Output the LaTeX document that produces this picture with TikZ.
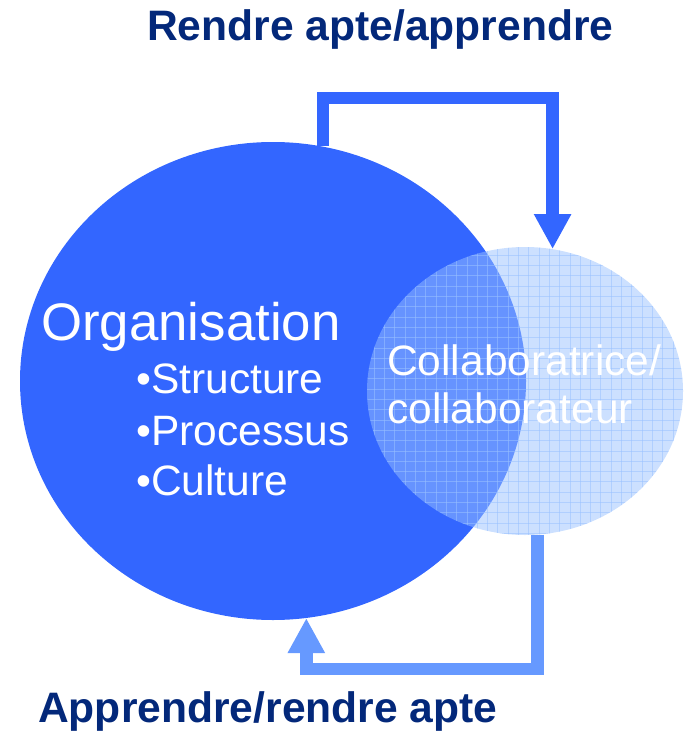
\documentclass[tikz,border=0pt]{standalone}
\usepackage{fontspec}
\setmainfont{Liberation Sans}
\usetikzlibrary{arrows.meta,shapes.geometric}

\definecolor{orgblue}{RGB}{51,102,255}
\definecolor{backblue}{RGB}{102,153,255}
\definecolor{collabblue}{RGB}{153,193,255}
\definecolor{titlenavy}{RGB}{3,40,122}

\tikzset{
  orgshape/.style={ellipse, fill=orgblue, draw=none, inner sep=0pt,
    minimum width=506pt, minimum height=478pt},
  collabshape/.style={ellipse, fill=collabblue, fill opacity=0.5, draw=none,
    inner sep=0pt, minimum width=316pt, minimum height=288pt},
  gridlines/.style={draw=collabblue, draw opacity=0.55, line width=0.9pt},
  flowarrow/.style={line width=12.5pt, line join=miter,
    -{Triangle[length=35pt 0 0, width=35pt 0 0]}},
  titletext/.style={anchor=base west, inner sep=0pt, text=titlenavy,
    font=\fontsize{42.6}{48}\selectfont\bfseries},
  bodytext/.style={anchor=base west, inner sep=0pt, text=white,
    font=\fontsize{42.5}{48}\selectfont},
}

\begin{document}
\begin{tikzpicture}[x=1pt,y=-1pt]
  \useasboundingbox (0,0) rectangle (684,733);

  % the two overlapping ellipses
  \node[orgshape] (org) at (273,381) {};
  \node[collabshape] (collab) at (525,391) {};
  \begin{scope}
    \clip (525,391) ellipse [x radius=158, y radius=144];
    \foreach \gx in {0,...,32}
      \draw[gridlines] (364+10.3*\gx,240) -- (364+10.3*\gx,540);
    \foreach \gy in {0,...,29}
      \draw[gridlines] (360,245+10.3*\gy) -- (690,245+10.3*\gy);
  \end{scope}

  % feedback loops between the ellipses
  \draw[flowarrow, orgblue] (org.78.4) -- ++(0,-48.5) -| (collab.79.4);
  \draw[flowarrow, backblue] (collab.-85) -- ++(0,134.5) -| (org.-82);

  % titles
  \node[titletext] (top) at (147,41) {Rendre apte/apprendre};
  \node[titletext] (bottom) at (38,722) {Apprendre/rendre apte};

  % organisation text
  \node[bodytext, font=\fontsize{52.8}{60}\selectfont] (orgtitle) at (41,340) {Organisation};
  \node[bodytext] (b1) at (136,393) {•Structure};
  \node[bodytext] (b2) at (136,445) {•Processus};
  \node[bodytext] (b3) at (136,495) {•Culture};

  % collaborator text
  \node[bodytext] (c1) at (387,375) {Collaboratrice/};
  \node[bodytext] (c2) at (387,423) {collaborateur};
\end{tikzpicture}
\end{document}
